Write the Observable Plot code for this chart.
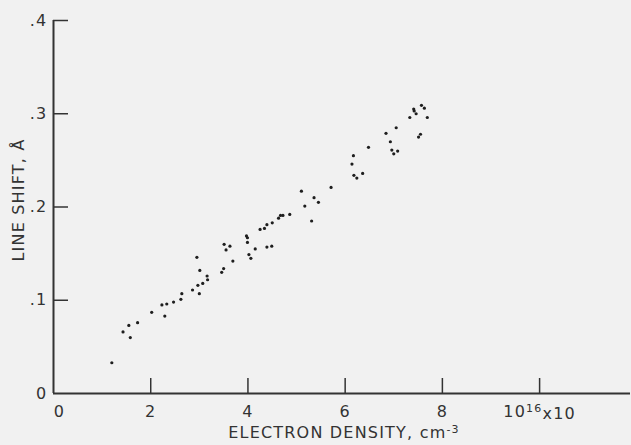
<!DOCTYPE html>
<html><head><meta charset="utf-8">
<script src="https://cdn.jsdelivr.net/npm/d3@7"></script>
<script src="https://cdn.jsdelivr.net/npm/@observablehq/plot@0.6"></script>
<style>
html,body{margin:0;padding:0;background:#f1f1f1;}
svg text{letter-spacing:1.2px;}
</style></head><body><div id="chart"></div>
<script>
const density = [1.20,1.43,1.55,1.58,1.73,2.02,2.23,2.29,2.33,2.47,
  2.62,2.64,2.86,2.97,3.00,3.01,3.07,3.16,3.17,3.46,
  3.50,3.69,2.95,3.51,3.55,3.63,3.97,3.99,3.99,4.02,
  4.06,4.15,4.25,4.34,4.39,4.39,4.49,4.50,4.63,4.67,
  4.72,4.86,5.10,5.17,5.31,5.36,5.45,5.71,6.14,6.17,
  6.18,6.24,6.36,6.48,6.84,6.93,6.96,7.00,7.05,7.08,
  7.33,7.41,7.42,7.46,7.51,7.55,7.57,7.63,7.69];
const shift = [0.033,0.066,0.073,0.060,0.076,0.087,0.095,0.083,0.096,0.098,
  0.101,0.107,0.111,0.116,0.107,0.132,0.118,0.126,0.122,0.130,
  0.134,0.142,0.146,0.160,0.154,0.158,0.169,0.167,0.162,0.149,
  0.145,0.155,0.176,0.177,0.181,0.157,0.158,0.183,0.188,0.191,
  0.191,0.192,0.217,0.201,0.185,0.210,0.205,0.221,0.246,0.255,
  0.234,0.231,0.236,0.264,0.279,0.270,0.261,0.257,0.285,0.260,
  0.296,0.305,0.303,0.300,0.275,0.278,0.309,0.306,0.296];
const xTicks = [2,4,6,8,10];
const xTickLabels = [0,2,4,6,8,10];
const yTicks = [0.1,0.2,0.3,0.4];
const yTickLabels = [0,0.1,0.2,0.3,0.4];
const xLabel = "ELECTRON DENSITY, cm";
const xLabelExp = "-3";
const yLabel = "LINE SHIFT, Å";
const unitBase = "10", unitExp = "16", unitTail = "x10";

const points = density.map((d, i) => ({density: d, shift: shift[i]}));
const ink = "#333333";

const chart = Plot.plot({
  width: 631, height: 445,
  marginLeft: 53, marginRight: 1, marginTop: 20, marginBottom: 52,
  style: {background: "#f1f1f1", fontFamily: "'DejaVu Sans', sans-serif", fontSize: "16px", color: ink},
  x: {domain: [0, 11.87]},
  y: {domain: [0, 0.4]},
  marks: [
    Plot.tickX(xTicks, {x: d => d, insetTop: 358, stroke: ink, strokeWidth: 1.5}),
    Plot.tickY(yTicks, {y: d => d, insetRight: 562, stroke: ink, strokeWidth: 1.5}),
    Plot.axisX(xTickLabels, {tickSize: 0, tickPadding: 12, label: null, fill: ink,
      tickFormat: d => String(d)}),
    Plot.axisY(yTickLabels, {tickSize: 0, tickPadding: 6, label: null, fill: ink,
      tickFormat: d => d === 0 ? "0" : "." + Math.round(d * 10)}),
    Plot.ruleX([0], {stroke: ink, strokeWidth: 2}),
    Plot.ruleY([0], {stroke: ink, strokeWidth: 2}),
    Plot.dot(points, {x: "density", y: "shift", r: 1.6, fill: "#1e1e1e", stroke: null}),
    Plot.text([yLabel], {frameAnchor: "left", textAnchor: "middle", rotate: -90, dx: -35, dy: -7, fill: ink, fontSize: 16}),
    Plot.text([xLabel], {frameAnchor: "bottom", dy: 44, dx: 2, fill: ink, fontSize: 16})
  ]
});
document.getElementById("chart").appendChild(chart);

const svg = d3.select(chart);
svg.selectAll('g[aria-label="x-axis tick label"] text').each(function() {
  const t = d3.select(this);
  if (t.text() === "0") t.attr("dx", 6);
  if (t.text() === "10") {
    t.text(null);
    t.append("tspan").text(unitBase);
    t.append("tspan").attr("dy", "-0.45em").attr("font-size", 11).text(unitExp);
    t.append("tspan").attr("dy", "0.45em").text(unitTail);
  }
});
svg.selectAll("text").each(function() {
  const t = d3.select(this);
  if (t.text() === xLabel) {
    t.append("tspan").attr("dy", "-0.45em").attr("font-size", 11).text(xLabelExp);
  }
});
</script></body></html>
